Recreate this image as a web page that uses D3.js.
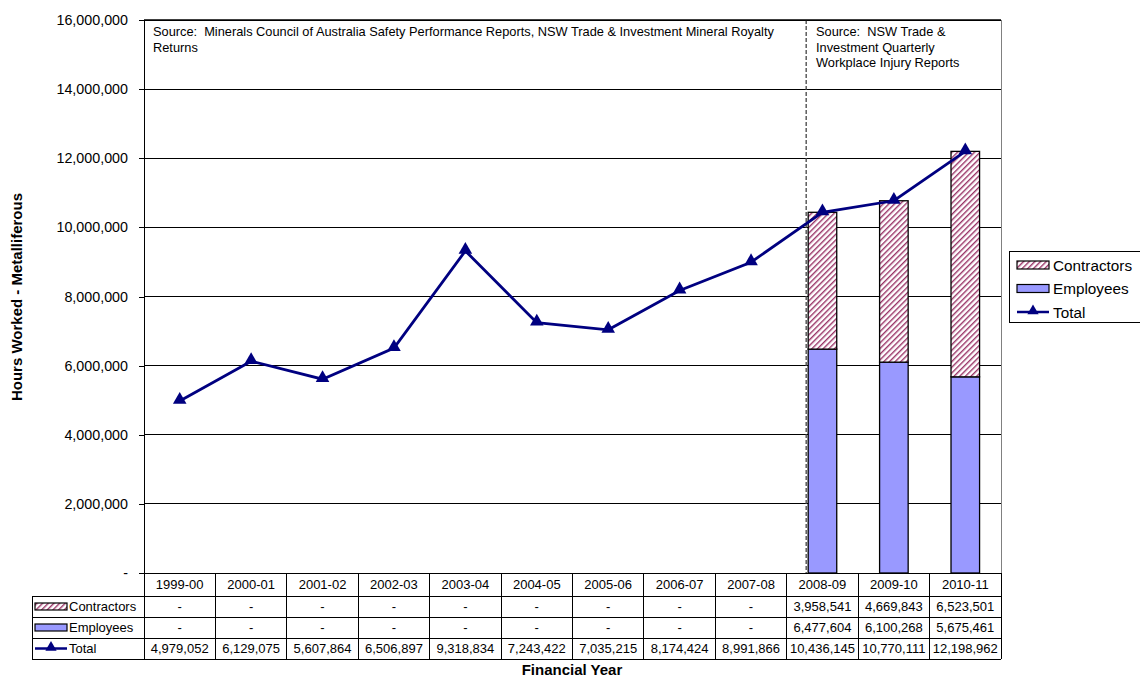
<!DOCTYPE html>
<html>
<head>
<meta charset="utf-8">
<script src="https://cdn.jsdelivr.net/npm/d3@7"></script>
<style>
  html, body { margin: 0; padding: 0; background: #fff; }
  svg { display: block; font-family: "Liberation Sans", Arial, sans-serif; }
  .note { white-space: pre; }
</style>
</head>
<body>
<svg id="chart" width="1140" height="678"></svg>
<script>
// Financial years and series values (hours worked, metalliferous mining)
const years = ["1999-00","2000-01","2001-02","2002-03","2003-04","2004-05","2005-06","2006-07","2007-08","2008-09","2009-10","2010-11"];
const contractors = [null,null,null,null,null,null,null,null,null,3958541,4669843,6523501];
const employees   = [null,null,null,null,null,null,null,null,null,6477604,6100268,5675461];
const totals      = [4979052,6129075,5607864,6506897,9318834,7243422,7035215,8174424,8991866,10436145,10770111,12198962];
const yTicks = [0,2000000,4000000,6000000,8000000,10000000,12000000,14000000,16000000];
const seriesNames = ["Contractors","Employees","Total"];
const sourceLeft = ["Source:  Minerals Council of Australia Safety Performance Reports, NSW Trade & Investment Mineral Royalty","Returns"];
const sourceRight = ["Source:  NSW Trade &","Investment Quarterly","Workplace Injury Reports"];

const svg = d3.select("#chart");
const L = 144, R = 1001, T = 20, B = 573;
const navy = "#000080", blue = "#9999FF", hatch = "#993366";

// hatch pattern for contractors
const defs = svg.append("defs");
const pat = defs.append("pattern").attr("id","hatch").attr("patternUnits","userSpaceOnUse")
  .attr("width",4).attr("height",4).attr("patternTransform","rotate(45)");
pat.append("rect").attr("width",4).attr("height",4).attr("fill","#fff");
pat.append("rect").attr("width",1.4).attr("height",4).attr("fill",hatch);

const x = d3.scaleBand().domain(years).range([L,R]).paddingInner(0).paddingOuter(0);
const y = d3.scaleLinear().domain([0,16000000]).range([B,T]);
const fmt = d3.format(",");

// gridlines
svg.append("g").selectAll("line").data(yTicks.filter(d=>d>0)).join("line")
  .attr("x1",L).attr("x2",R).attr("y1",d=>y(d)).attr("y2",d=>y(d))
  .attr("stroke","#000").attr("stroke-width",1).attr("shape-rendering","crispEdges");
// right edge of plot
svg.append("line").attr("x1",R).attr("x2",R).attr("y1",T).attr("y2",B)
  .attr("stroke","#808080").attr("shape-rendering","crispEdges");

// y axis
const yAxis = d3.axisLeft(y).tickValues(yTicks).tickSize(5).tickPadding(11)
  .tickFormat(d => d === 0 ? "-" : fmt(d));
const ga = svg.append("g").attr("transform",`translate(${L},0)`).call(yAxis);
ga.select(".domain").attr("stroke","#000").attr("shape-rendering","crispEdges");
ga.selectAll(".tick line").attr("stroke","#000").attr("shape-rendering","crispEdges");
ga.selectAll(".tick text").attr("font-size",14.3).attr("fill","#000")
  .attr("font-family","Liberation Sans, Arial, sans-serif");

// y axis title
svg.append("text").attr("transform","translate(22,297) rotate(-90)")
  .attr("text-anchor","middle").attr("font-size",15).attr("font-weight","bold")
  .text("Hours Worked - Metalliferous");

// stacked bars
const bw = x.bandwidth()*0.4;
const barData = years.map((yr,i)=>({yr, emp: employees[i], con: contractors[i]})).filter(d=>d.emp!=null);
const gb = svg.append("g");
gb.selectAll("rect.emp").data(barData).join("rect").attr("class","emp")
  .attr("x",d=>x(d.yr)+(x.bandwidth()-bw)/2).attr("width",bw)
  .attr("y",d=>y(d.emp)).attr("height",d=>y(0)-y(d.emp))
  .attr("fill",blue).attr("stroke","#000").attr("stroke-width",1.3);
gb.selectAll("rect.con").data(barData).join("rect").attr("class","con")
  .attr("x",d=>x(d.yr)+(x.bandwidth()-bw)/2).attr("width",bw)
  .attr("y",d=>y(d.emp+d.con)).attr("height",d=>y(d.emp)-y(d.emp+d.con))
  .attr("fill","url(#hatch)").attr("stroke","#000").attr("stroke-width",1.3);

// dashed divider between data sources
const divX = x("2008-09") + (x.bandwidth()-bw)/2 - 2;
svg.append("line").attr("x1",divX).attr("x2",divX).attr("y1",T).attr("y2",B)
  .attr("stroke","#444").attr("stroke-width",1.3).attr("stroke-dasharray","4,2");

// top border
svg.append("line").attr("x1",L).attr("x2",R).attr("y1",T).attr("y2",T)
  .attr("stroke","#000").attr("stroke-width",1.3);

// total line
const line = d3.line().x((d,i)=>x(years[i])+x.bandwidth()/2).y(d=>y(d));
svg.append("path").datum(totals).attr("d",line).attr("fill","none")
  .attr("stroke",navy).attr("stroke-width",2.8);
const tri = d3.symbol().type(d3.symbolTriangle).size(80);
svg.append("g").selectAll("path").data(totals).join("path")
  .attr("transform",(d,i)=>`translate(${x(years[i])+x.bandwidth()/2},${y(d)-1})`)
  .attr("d",tri).attr("fill",navy);

// source notes
const sl = svg.append("text").attr("class","note").attr("font-size",12.8).attr("fill","#000");
sourceLeft.forEach((t,i)=>sl.append("tspan").attr("x",153).attr("y",36+i*15.5).text(t));
const sr = svg.append("text").attr("class","note").attr("font-size",12.8).attr("fill","#000");
sourceRight.forEach((t,i)=>sr.append("tspan").attr("x",816).attr("y",36+i*15.5).text(t));

// legend swatches
function swatch(g, name, sx, sy, w, h) {
  if (name === "Total") {
    g.append("line").attr("x1",sx).attr("x2",sx+w).attr("y1",sy).attr("y2",sy)
      .attr("stroke",navy).attr("stroke-width",2.5);
    g.append("path").attr("d",d3.symbol().type(d3.symbolTriangle).size(55)())
      .attr("transform",`translate(${sx+w/2},${sy-1})`).attr("fill",navy);
  } else {
    g.append("rect").attr("x",sx).attr("y",sy-h/2).attr("width",w).attr("height",h)
      .attr("fill", name==="Contractors" ? "url(#hatch)" : blue)
      .attr("stroke","#000").attr("stroke-width",1.2);
  }
}

// side legend
const lg = svg.append("g");
lg.append("rect").attr("x",1009.5).attr("y",251.5).attr("width",131).attr("height",71)
  .attr("fill","#fff").attr("stroke","#000");
seriesNames.forEach((n,i)=>{
  const cy = 265 + i*23.5;
  swatch(lg, n, 1017, cy, 32, 8);
  lg.append("text").attr("x",1053).attr("y",cy+5.5).attr("font-size",15.3).text(n);
});

// data table
const rowsY = [573, 596, 617, 638, 659];
const tg = svg.append("g");
// horizontal lines
rowsY.forEach((ry,i)=>{
  tg.append("line").attr("x1", i===0 ? L : 32).attr("x2",R)
    .attr("y1",ry).attr("y2",ry).attr("stroke","#000").attr("shape-rendering","crispEdges");
});
// vertical lines
years.forEach((yr,i)=>{
  tg.append("line").attr("x1",x(yr)).attr("x2",x(yr)).attr("y1",573).attr("y2",659)
    .attr("stroke","#000").attr("shape-rendering","crispEdges");
});
tg.append("line").attr("x1",R).attr("x2",R).attr("y1",573).attr("y2",659)
  .attr("stroke","#000").attr("shape-rendering","crispEdges");
tg.append("line").attr("x1",32).attr("x2",32).attr("y1",596).attr("y2",659)
  .attr("stroke","#000").attr("shape-rendering","crispEdges");
// header
tg.selectAll("text.hd").data(years).join("text").attr("class","hd")
  .attr("x",d=>x(d)+x.bandwidth()/2).attr("y",589).attr("text-anchor","middle")
  .attr("font-size",13).text(d=>d);
// rows
const rowVals = [contractors, employees, totals];
seriesNames.forEach((n,r)=>{
  const cy = (rowsY[r+1]+rowsY[r+2])/2;
  swatch(tg, n, 35, cy, 32, 7);
  tg.append("text").attr("x",69).attr("y",cy+4.5).attr("font-size",13).text(n);
  tg.selectAll(null).data(rowVals[r]).join("text")
    .attr("x",(d,i)=>x(years[i])+x.bandwidth()/2).attr("y",cy+4.5)
    .attr("text-anchor","middle").attr("font-size",13)
    .text(d=>d==null ? "-" : fmt(d));
});

// x axis title
svg.append("text").attr("x",572).attr("y",675).attr("text-anchor","middle")
  .attr("font-size",15).attr("font-weight","bold").text("Financial Year");
</script>
</body>
</html>
